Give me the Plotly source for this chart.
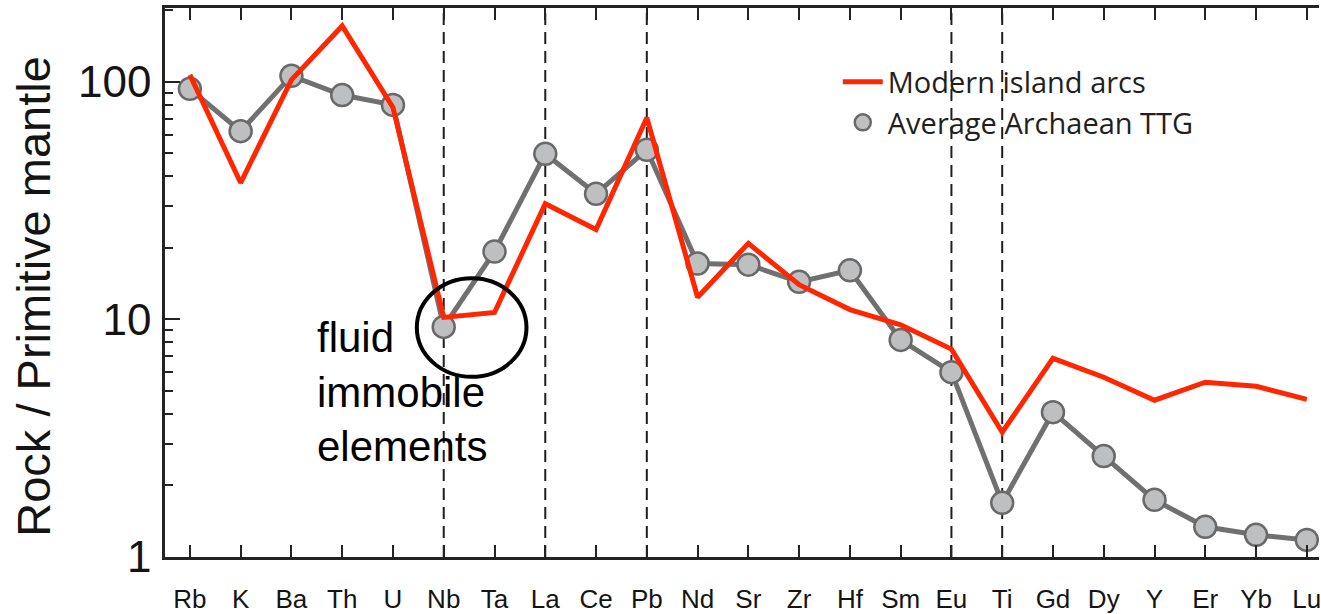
import plotly.graph_objects as go
import math

# Trace elements, ordered for the primitive-mantle normalised spider diagram
elements = ["Rb", "K", "Ba", "Th", "U", "Nb", "Ta", "La", "Ce", "Pb", "Nd", "Sr",
            "Zr", "Hf", "Sm", "Eu", "Ti", "Gd", "Dy", "Y", "Er", "Yb", "Lu"]

# Rock / primitive mantle ratios
island_arcs = [107, 37.6, 102, 172, 78, 10.2, 10.7, 30.7, 23.9, 70.6, 12.4, 20.9,
               14.0, 11.0, 9.5, 7.5, 3.35, 6.86, 5.71, 4.57, 5.44, 5.23, 4.61]
archaean_ttg = [93.5, 62, 106, 88, 80, 9.3, 19.3, 49.8, 33.8, 51.8, 17.2, 17.0,
                14.4, 16.1, 8.2, 6.0, 1.69, 4.07, 2.66, 1.74, 1.34, 1.24, 1.18]

# Elements marked with vertical dashed guide lines
guide_elements = ["Nb", "La", "Pb", "Eu", "Ti"]
# Elements circled as fluid-immobile
circled = ["Nb", "Ta"]

y_ticks = [1, 10, 100]
y_minor = [v * d for d in (1, 10, 100) for v in range(2, 10)]

xi = list(range(len(elements)))

RED = "rgb(255,38,0)"
GREY_LINE = "rgb(112,112,112)"
GREY_FILL = "rgb(190,191,193)"
GREY_EDGE = "rgb(105,105,105)"
FONT = "Liberation Sans, Arial, sans-serif"

fig = go.Figure()

# TTG connecting line (kept out of the legend so only the marker shows there)
fig.add_trace(go.Scatter(
    x=xi, y=archaean_ttg, mode="lines",
    line=dict(color=GREY_LINE, width=5),
    showlegend=False, hoverinfo="skip",
))
fig.add_trace(go.Scatter(
    x=xi, y=archaean_ttg, mode="markers", name="Average Archaean TTG",
    marker=dict(size=22, color=GREY_FILL, line=dict(color=GREY_EDGE, width=2.5)),
    legendrank=2,
))
fig.add_trace(go.Scatter(
    x=xi, y=island_arcs, mode="lines", name="Modern island arcs",
    line=dict(color=RED, width=5),
    legendrank=1,
))

# Vertical dashed guides
for el in guide_elements:
    i = elements.index(el)
    fig.add_shape(type="line", xref="x", yref="paper", x0=i, x1=i, y0=0, y1=1,
                  line=dict(color="rgb(30,30,30)", width=2, dash="12px,7px"),
                  layer="below")

# Ellipse around the fluid-immobile pair, centred on the lowest of their values
i0, i1 = elements.index(circled[0]), elements.index(circled[1])
cx = (i0 + i1) / 2 + 0.05
vals = [archaean_ttg[i0], island_arcs[i0], archaean_ttg[i1], island_arcs[i1]]
cy = math.log10(min(vals))
fig.add_shape(type="circle", xref="x", yref="y",
              x0=cx - 1.08, x1=cx + 1.08,
              y0=10 ** (cy - 0.21), y1=10 ** (cy + 0.205),
              line=dict(color="black", width=4))

fig.add_annotation(
    text="fluid<br>immobile<br>elements", xref="x", yref="paper",
    x=2.47, y=0.300, xanchor="left", yanchor="middle", align="left",
    showarrow=False, font=dict(family=FONT, size=42, color="black"),
)

# Y-axis title, placed by hand so it sits slightly below the plot centre
fig.add_annotation(
    text="Rock / Primitive mantle", xref="paper", yref="paper",
    x=-0.1142, y=0.4745, xanchor="center", yanchor="middle", textangle=-90,
    showarrow=False, font=dict(family=FONT, size=47, color="rgb(20,20,20)"),
)

fig.update_layout(
    width=1321, height=614,
    margin=dict(l=165, r=0, t=8, b=56),
    paper_bgcolor="white", plot_bgcolor="white",
    font=dict(family=FONT, color="black"),
    showlegend=True,
    legend=dict(
        x=0.583, y=0.912, xanchor="left", yanchor="top",
        bgcolor="rgba(0,0,0,0)", borderwidth=0,
        font=dict(family="Open Sans, sans-serif", size=29, color="rgb(35,31,32)"),
        tracegroupgap=0, itemwidth=40,
    ),
    xaxis=dict(
        tickmode="array", tickvals=xi, ticktext=elements,
        range=[-0.49, 22.24],
        showline=True, linecolor="rgb(35,35,35)", linewidth=2.5, mirror="allticks",
        ticks="inside", ticklen=12, tickwidth=2, tickcolor="rgb(35,35,35)",
        tickfont=dict(family=FONT, size=26, color="rgb(20,20,20)"),
        showgrid=False, zeroline=False, ticklabelstandoff=17,
        ticklabeloverflow="allow",
    ),
    yaxis=dict(
        type="log", range=[0, 2.311],
        tickmode="array", tickvals=y_ticks, ticktext=[str(v) for v in y_ticks],
        showline=True, linecolor="rgb(35,35,35)", linewidth=2.5, mirror=False,
        ticks="inside", ticklen=15, tickwidth=2, tickcolor="rgb(35,35,35)",
        minor=dict(tickvals=y_minor, ticks="inside", ticklen=8, tickwidth=2,
                   tickcolor="rgb(35,35,35)", showgrid=False),
        tickfont=dict(family=FONT, size=44, color="rgb(20,20,20)"),
        showgrid=False, zeroline=False, ticklabelstandoff=2,
    ),
)

fig.write_html("out.html")
